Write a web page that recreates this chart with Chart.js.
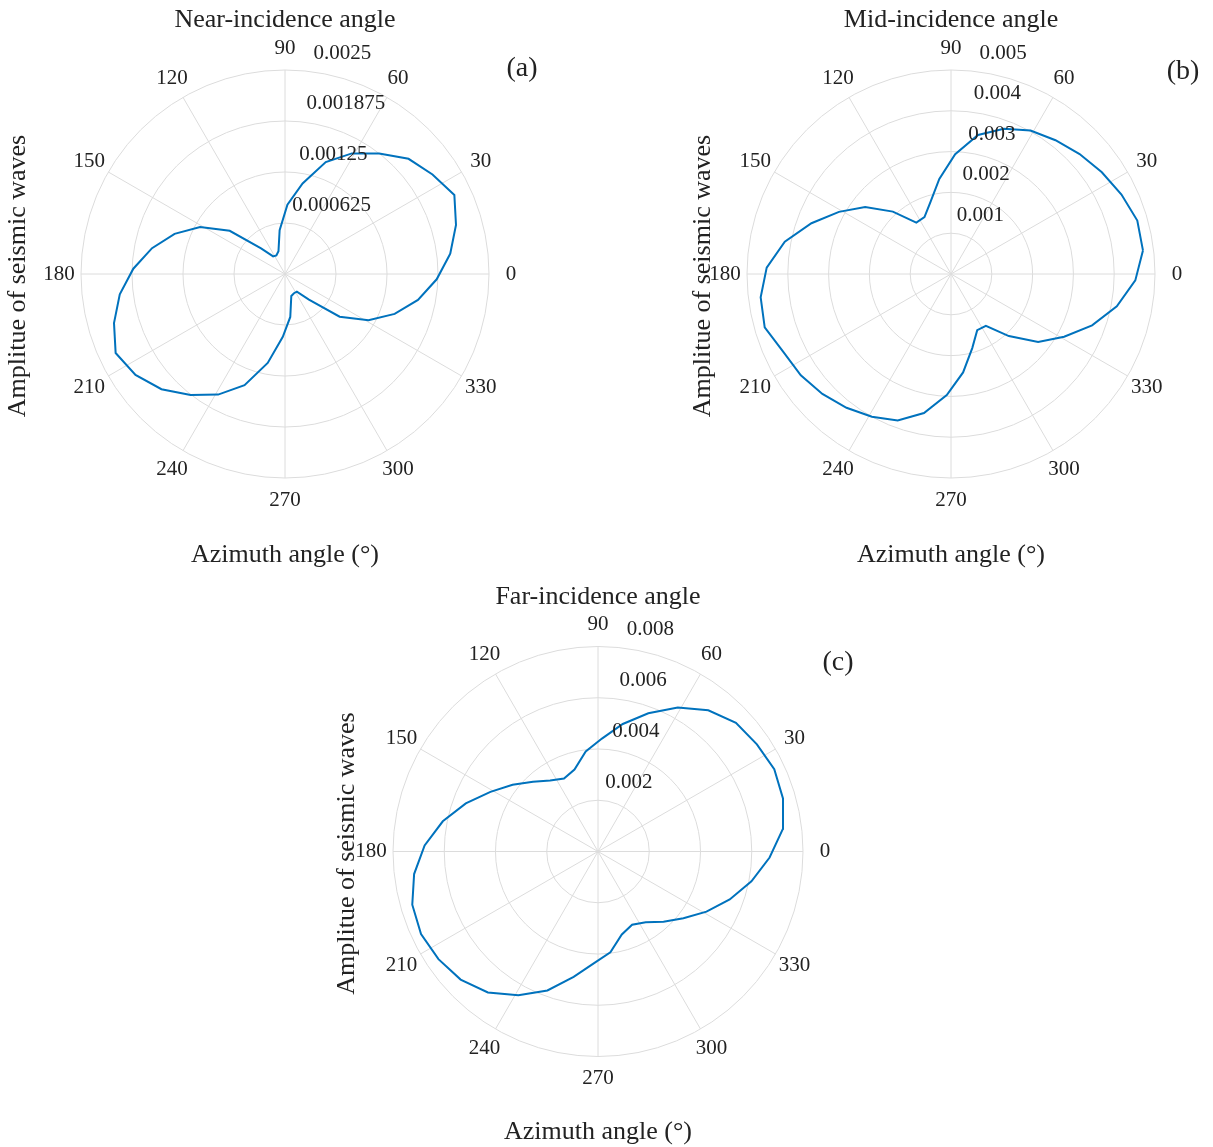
<!DOCTYPE html>
<html>
<head>
<meta charset="utf-8">
<title>Seismic amplitude vs azimuth</title>
<script src="https://cdn.jsdelivr.net/npm/chart.js@4.4.1/dist/chart.umd.min.js"></script>
<style>
  body { margin: 0; background: #fff; width: 1213px; height: 1147px; overflow: hidden; position: relative; }
  canvas { position: absolute; left: 0; top: 0; }
</style>
</head>
<body>
<canvas id="chartA" width="1213" height="1147"></canvas>
<canvas id="chartB" width="1213" height="1147"></canvas>
<canvas id="chartC" width="1213" height="1147"></canvas>
<script>
const azimuth = [7, 16, 25, 34, 43, 52, 61, 70, 79, 88, 97, 106, 115, 124, 133, 142, 151, 160, 169, 178,
                 187, 196, 205, 214, 223, 232, 241, 250, 259, 268, 277, 286, 295, 304, 313, 322, 331, 340, 349, 358];

// Amplitude values for each incidence angle
const nearAmp = [0.00204, 0.00218, 0.00229, 0.00218, 0.00207, 0.001875, 0.00169, 0.00146, 0.00113, 0.00085,
                 0.00054, 0.00029, 0.00025, 0.00026, 0.00043, 0.00086, 0.00119, 0.00144, 0.00166, 0.00186,
                 0.00204, 0.00218, 0.00229, 0.00221, 0.00207, 0.00188, 0.00169, 0.00145, 0.00111, 0.00077,
                 0.00053, 0.00028, 0.00026, 0.00026, 0.00043, 0.00085, 0.00117, 0.00143, 0.00166, 0.00186];
const midAmp = [0.00474, 0.00475, 0.00461, 0.00446, 0.00431, 0.00416, 0.00402, 0.00379, 0.00347, 0.00294,
                0.00235, 0.00183, 0.00154, 0.00152, 0.00209, 0.00267, 0.00314, 0.00364, 0.00415, 0.00452,
                0.00470, 0.00475, 0.00453, 0.00444, 0.00431, 0.00416, 0.00400, 0.00382, 0.00347, 0.00297,
                0.00243, 0.00189, 0.00152, 0.00153, 0.00208, 0.00271, 0.00317, 0.00368, 0.00414, 0.00452];
const farAmp = [0.00727, 0.00751, 0.00759, 0.00748, 0.00736, 0.00699, 0.00642, 0.00574, 0.00507, 0.00441,
                0.00393, 0.00333, 0.00314, 0.00334, 0.00372, 0.00423, 0.00480, 0.00549, 0.00617, 0.00677,
                0.00723, 0.00754, 0.00762, 0.00751, 0.00733, 0.00698, 0.00641, 0.00577, 0.00498, 0.00436,
                0.00396, 0.00337, 0.00315, 0.00333, 0.00375, 0.00423, 0.00484, 0.00547, 0.00610, 0.00670];

// Radial tick values (outer one is the axis limit)
const nearTicks = [0.000625, 0.00125, 0.001875, 0.0025];
const midTicks = [0.001, 0.002, 0.003, 0.004, 0.005];
const farTicks = [0.002, 0.004, 0.006, 0.008];

// Angular tick labels
const angleTicks = [0, 30, 60, 90, 120, 150, 180, 210, 240, 270, 300, 330];

const W = 1213, H = 1147;
const FONT = "'Liberation Serif', 'Times New Roman', serif";
const TXT = '#222';

// Dibuja la rejilla polar, etiquetas y títulos alrededor de la curva
const polarDeco = {
  id: 'polarDeco',
  beforeDatasetsDraw(chart, args, o) {
    const { ctx, scales: { x, y } } = chart;
    const cx = x.getPixelForValue(0), cy = y.getPixelForValue(0);
    const max = o.ticks[o.ticks.length - 1];
    ctx.save();
    ctx.strokeStyle = '#dcdcdc';
    ctx.lineWidth = 1;
    o.ticks.forEach(t => {
      ctx.beginPath();
      ctx.arc(cx, cy, x.getPixelForValue(t) - cx, 0, 2 * Math.PI);
      ctx.stroke();
    });
    angleTicks.forEach(a => {
      const rad = a * Math.PI / 180;
      ctx.beginPath();
      ctx.moveTo(cx, cy);
      ctx.lineTo(x.getPixelForValue(max * Math.cos(rad)), y.getPixelForValue(max * Math.sin(rad)));
      ctx.stroke();
    });
    ctx.restore();
  },
  afterDatasetsDraw(chart, args, o) {
    const { ctx, scales: { x, y } } = chart;
    const cx = x.getPixelForValue(0), cy = y.getPixelForValue(0);
    const max = o.ticks[o.ticks.length - 1];
    const R = x.getPixelForValue(max) - cx;
    ctx.save();
    ctx.fillStyle = TXT;
    ctx.textBaseline = 'middle';

    // angle labels
    ctx.font = '21px ' + FONT;
    ctx.textAlign = 'center';
    angleTicks.forEach(a => {
      const rad = a * Math.PI / 180;
      ctx.fillText(String(a), cx + (R + 22) * Math.cos(rad), cy - (R + 22) * Math.sin(rad));
    });

    // radial tick labels near 80 degrees
    ctx.textAlign = 'left';
    o.ticks.forEach(t => {
      const r = x.getPixelForValue(t) - cx;
      ctx.fillText(String(t), cx + 0.14 * r, cy - 0.995 * r - 18);
    });

    // title, axis labels, panel tag
    ctx.textAlign = 'center';
    ctx.font = '26px ' + FONT;
    ctx.fillText(o.title, cx, cy - 254);
    ctx.fillText('Azimuth angle (°)', cx, cy + 281);
    ctx.save();
    ctx.translate(cx + o.ylabelDx, cy + 2);
    ctx.rotate(-Math.PI / 2);
    ctx.fillText('Amplitue of seismic waves', 0, 0);
    ctx.restore();
    ctx.font = '28px ' + FONT;
    ctx.fillText(o.tag, cx + o.tagDx, cy + o.tagDy);
    ctx.restore();
  }
};

function makePolar(id, amp, ticks, geo, title, tag) {
  const max = ticks[ticks.length - 1];
  const pts = azimuth.map((a, i) => ({
    x: amp[i] * Math.cos(a * Math.PI / 180),
    y: amp[i] * Math.sin(a * Math.PI / 180)
  }));
  pts.push(pts[0]);
  new Chart(document.getElementById(id), {
    type: 'scatter',
    data: { datasets: [{ data: pts, showLine: true, borderColor: '#0072BD', borderWidth: 2, pointRadius: 0, tension: 0, fill: false }] },
    options: {
      responsive: false, animation: false, events: [],
      layout: { padding: { left: geo.cx - geo.R, right: W - geo.cx - geo.R, top: geo.cy - geo.R, bottom: H - geo.cy - geo.R } },
      scales: {
        x: { type: 'linear', min: -max, max: max, display: false },
        y: { type: 'linear', min: -max, max: max, display: false }
      },
      plugins: {
        legend: { display: false }, tooltip: { enabled: false },
        polarDeco: { ticks: ticks, title: title, tag: tag, ylabelDx: geo.ylabelDx, tagDx: geo.tagDx, tagDy: geo.tagDy }
      }
    },
    plugins: [polarDeco]
  });
}

makePolar('chartA', nearAmp, nearTicks, { cx: 285, cy: 274, R: 204, ylabelDx: -267, tagDx: 237, tagDy: -205 }, 'Near-incidence angle', '(a)');
makePolar('chartB', midAmp, midTicks, { cx: 951, cy: 274, R: 204, ylabelDx: -248, tagDx: 232, tagDy: -202 }, 'Mid-incidence angle', '(b)');
makePolar('chartC', farAmp, farTicks, { cx: 598, cy: 851.5, R: 205, ylabelDx: -251, tagDx: 240, tagDy: -189 }, 'Far-incidence angle', '(c)');
</script>
</body>
</html>
